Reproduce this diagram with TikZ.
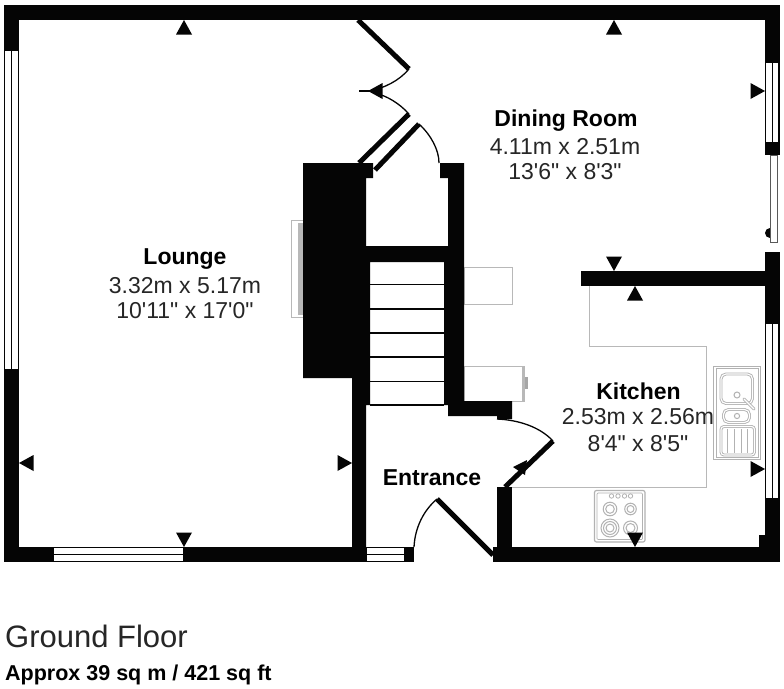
\documentclass[tikz,border=0pt]{standalone}
\usepackage{fontspec}
\newfontfamily\plainsans{Liberation Sans}
\definecolor{ink}{gray}{0.02}
\definecolor{fix}{gray}{0.72}
\tikzset{
  wall/.style={fill=ink,draw=none},
  glaze/.style={fill=white,draw=ink,line width=1.2},
  mid/.style={draw=ink,line width=1.2},
  leaf/.style={draw=ink,line width=5},
  swing/.style={draw=ink,line width=1.3},
  fixture/.style={draw=fix,line width=1,fill=white},
  fixline/.style={draw=fix,line width=1},
  unit/.style={draw=gray!60,line width=1},
  dbl/.style={double=white,double distance=1.1,draw=gray!60,line width=.9},
  tri/.style={fill=ink,draw=none},
  rname/.style={font=\plainsans\fontsize{23}{26}\selectfont\bfseries,anchor=center,inner sep=0},
  rdim/.style={font=\plainsans\fontsize{23}{26}\selectfont,anchor=center,inner sep=0,text=black!85}
}
\begin{document}
\begin{tikzpicture}[x=1pt,y=-1pt]
\useasboundingbox (0,0) rectangle (784,688);
\fill[white] (0,0) rectangle (784,688);
% fixtures
\draw[fixture] (464,267) rectangle (512,304);
\draw[fixture] (464,366) rectangle (524,401);
\fill[fix] (522,366) rectangle (525,401);
\fill[gray!70] (525,377) rectangle (527.5,389);
\draw[fixture] (291.5,220) rectangle (303,317);
\fill[fix] (298,223) rectangle (303,315);
\draw[fixline] (589,286) -- (589,346) -- (706,346) -- (706,487) -- (512,487);
% walls
\fill[wall] (4,5) rectangle (780,20);
\fill[wall] (4,5) rectangle (19,50);
\fill[wall] (4,370) rectangle (19,562);
\fill[wall] (4,547) rectangle (53,562);
\fill[wall] (184,547) rectangle (366,562);
\fill[wall] (405,547) rectangle (414,562);
\fill[wall] (493,547) rectangle (780,562);
\fill[wall] (303,163) -- (373,163) -- (373,178) -- (366,178) -- (366,246) -- (448,246) -- (448,178) -- (440,178) -- (440,163) -- (464,163) -- (464,401) -- (512,401) -- (512,419) -- (497,419) -- (497,416) -- (448,416) -- (448,405) -- (444,405) -- (444,262) -- (370,262) -- (370,405) -- (366,405) -- (366,547) -- (352,547) -- (352,378) -- (303,378) -- cycle;
\fill[wall] (497,487) rectangle (512,547);
\fill[wall] (765,5) rectangle (780,62);
\fill[wall] (765,143) rectangle (780,155);
\fill[wall] (765,252) rectangle (780,323);
\fill[wall] (765,499) rectangle (780,562);
\fill[wall] (759,535) rectangle (766,547);
\fill[wall] (581,271) rectangle (765,286);
% windows
\draw[glaze] (4.6,50) rectangle (18.4,370);
\draw[mid] (11.5,50) -- (11.5,370);
\draw[glaze] (53,547.6) rectangle (184,561.4);
\draw[mid] (53,554.5) -- (184,554.5);
\draw[glaze] (366,547.6) rectangle (405,561.4);
\draw[mid] (366,554.5) -- (405,554.5);
\draw[glaze] (765.6,62) rectangle (779,143);
\draw[mid] (772.5,62) -- (772.5,143);
\draw[glaze] (765.6,323) rectangle (779,499);
\draw[mid] (772.5,323) -- (772.5,499);
% patio door
\fill[ink] (770,233) circle (5);
\draw[fill=white,draw=gray!70!black,line width=1] (770.3,155) rectangle (777,242);
% stairs
\foreach \yy in {284.5,309,333,357,381.5,405} \draw[ink,line width=1.2] (370,\yy) -- (444,\yy);
% doors
\draw[leaf] (358,20) -- (409,69);
\draw[leaf] (359,163) -- (409,114);
\draw[leaf] (375,170) -- (419,124);
\draw[leaf] (437,499) -- (493,555);
\draw[leaf] (505,487) -- (553,441);
\draw[swing] (409,69) .. controls (399,81) and (384,88) .. (370,91);
\draw[swing] (359,91) -- (372,91);
\draw[swing] (409,114) .. controls (399,103) and (387,96) .. (375,93);
\draw[swing] (419,124) .. controls (431,135) and (439,150) .. (439,163);
\draw[swing] (414,547) .. controls (415,527) and (424,510) .. (437,499);
\draw[swing] (497,419) .. controls (519,420) and (540,427) .. (553,441);
% view arrows
\foreach \xx/\yy/\ddx/\ddy in {184/20/0/1,614/20/0/1,635/286/0/1,184/547/0/-1,614/271/0/-1,19/463/1/0,352/463/-1/0,765/91/-1/0,765/469/-1/0,368/91/1/0}
  \fill[tri] (\xx,\yy) -- ({\xx+14.5*\ddx+8*\ddy},{\yy+14.5*\ddy+8*\ddx}) -- ({\xx+14.5*\ddx-8*\ddy},{\yy+14.5*\ddy-8*\ddx}) -- cycle;
\fill[tri] (513,467) -- (527,460) -- (525,475) -- cycle;
% sink
\draw[unit] (713.5,366) rectangle (760.5,459.5);
\draw[unit,line width=.8] (716,368.5) rectangle (758,457);
\draw[dbl,rounded corners=5] (721,374) rectangle (752.5,403.5);
\draw[dbl,rounded corners=5] (723.5,409.5) rectangle (749.5,422.5);
\draw[dbl,rounded corners=3] (721,426.5) rectangle (754.5,455);
\foreach \xx in {727.8,734.5,741.2,747.9} \draw[unit] (\xx,429) -- (\xx,452.5);
\draw[unit] (737,395) circle (3);
\draw[unit] (737,416) circle (2.6);
\draw[dbl,line cap=round] (744,399) -- (754,409);
% hob
\draw[unit,rounded corners=2,line width=1.2] (594.5,490.5) rectangle (645,542);
\draw[unit,rounded corners=1,line width=.7] (597,493) rectangle (642.5,539.5);
\foreach \xx in {611.5,618,624.5,630.5} \draw[unit,line width=.8] (\xx,496) circle (2.2);
\draw[unit] (610,509) circle (6.8);
\draw[unit] (610,509) circle (4.3);
\draw[unit] (630.5,509) circle (5.8);
\draw[unit] (630.5,509) circle (3.5);
\draw[unit] (610,528) circle (9);
\draw[unit] (610,528) circle (6.5);
\draw[unit] (610,528) circle (4);
\draw[unit] (630.5,528) circle (7);
\draw[unit] (630.5,528) circle (4.5);
\fill[tri] (635,547) -- (627,532.5) -- (643,532.5) -- cycle;
% labels
\node[rname] (lounge) at (185,259) {Lounge};
\node[rdim] (loungea) at (185,285.5) {3.32m x 5.17m};
\node[rdim] (loungeb) at (185,311) {10'11" x 17'0"};
\node[rname] (dining) at (566,121) {Dining Room};
\node[rdim] (dininga) at (565,147) {4.11m x 2.51m};
\node[rdim] (diningb) at (565,172) {13'6" x 8'3"};
\node[rname] (kitchen) at (638.5,391) {Kitchen};
\node[rdim] (kitchena) at (638,417) {2.53m x 2.56m};
\node[rdim] (kitchenb) at (638,444) {8'4" x 8'5"};
\node[rname] (entrance) at (432,478) {Entrance};
\node[anchor=west,inner sep=0,font=\plainsans\fontsize{31}{34}\selectfont,text=black!85] (floor) at (5,636) {Ground Floor};
\node[anchor=west,inner sep=0,font=\plainsans\fontsize{21.5}{24}\selectfont\bfseries] (area) at (5,674.5) {Approx 39 sq m / 421 sq ft};
\end{tikzpicture}
\end{document}
